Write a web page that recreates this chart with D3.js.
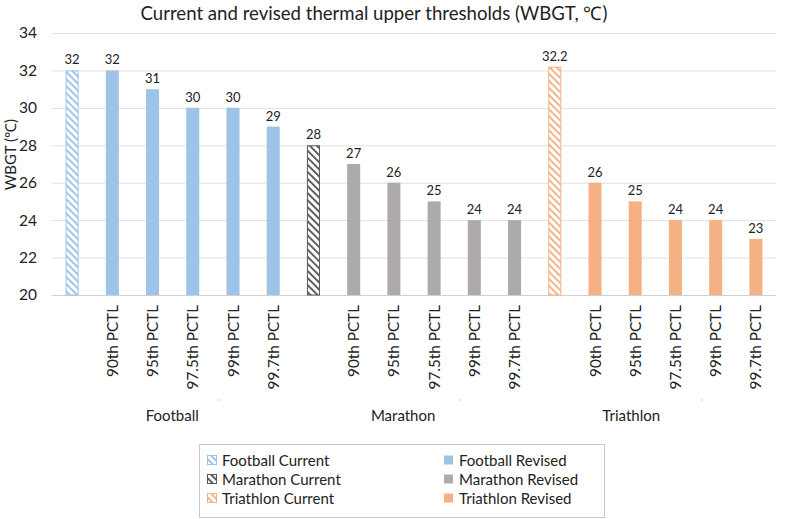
<!DOCTYPE html>
<html>
<head>
<meta charset="utf-8">
<script src="https://cdn.jsdelivr.net/npm/d3@7"></script>
<style>
body { margin: 0; background: #fff; }
svg { font-family: Lato, "Open Sans", sans-serif; }
</style>
</head>
<body>
<svg id="chart" width="800" height="519"></svg>
<script>
const groups = ["Football", "Marathon", "Triathlon"];
const pctls = ["90th PCTL", "95th PCTL", "97.5th PCTL", "99th PCTL", "99.7th PCTL"];
const currentValues = [32, 28, 32.2];
const footballRevised = [32, 31, 30, 30, 29];
const marathonRevised = [27, 26, 25, 24, 24];
const triathlonRevised = [26, 25, 24, 24, 23];
const yTicks = [20, 22, 24, 26, 28, 30, 32, 34];
const legendLabels = ["Football Current", "Football Revised", "Marathon Current", "Marathon Revised", "Triathlon Current", "Triathlon Revised"];

const revised = [footballRevised, marathonRevised, triathlonRevised];
const solidColors = ["#9DC3E6", "#AEAAAA", "#F4B183"];
const stripeColors = ["#9DC3E6", "#595959", "#F4B183"];

const slots = [];
groups.forEach((g, gi) => {
  slots.push({key: g + "|cur", group: gi, kind: "current", label: "", value: currentValues[gi]});
  pctls.forEach((p, pi) => {
    slots.push({key: g + "|" + p, group: gi, kind: "revised", label: p, value: revised[gi][pi]});
  });
});

const svg = d3.select("#chart");
const mLeft = 52, mRight = 776, mTop = 33, mBottom = 295;

const x = d3.scaleBand().domain(slots.map(d => d.key)).range([mLeft, mRight])
  .paddingInner(0.676).paddingOuter(0.338);
const y = d3.scaleLinear().domain([20, 34]).range([mBottom, mTop]);

const defs = svg.append("defs");
stripeColors.forEach((c, i) => {
  const p = defs.append("pattern").attr("id", "stripe" + i)
    .attr("patternUnits", "userSpaceOnUse").attr("width", 5).attr("height", 5)
    .attr("patternTransform", "rotate(-45)");
  p.append("rect").attr("width", 5).attr("height", 5).attr("fill", "#fff");
  p.append("rect").attr("x", 0).attr("width", 1.9).attr("height", 5).attr("fill", c);
});

svg.append("text").attr("x", 374).attr("y", 20).attr("text-anchor", "middle")
  .attr("font-size", 18.6).attr("fill", "#222")
  .text("Current and revised thermal upper thresholds (WBGT, ℃)");

svg.append("g").selectAll("line").data(yTicks).join("line")
  .attr("x1", mLeft).attr("x2", mRight)
  .attr("y1", d => y(d) + 0.5).attr("y2", d => y(d) + 0.5)
  .attr("stroke", d => d === 20 ? "#d0d0d0" : "#e0e0e0").attr("stroke-width", d => d === 20 ? 1.2 : 1);

const yAxis = d3.axisLeft(y).tickValues(yTicks).tickSize(0).tickPadding(0).tickFormat(d3.format("d"));
const ya = svg.append("g").attr("transform", `translate(${mLeft - 15},0)`).call(yAxis);
ya.select(".domain").remove();
ya.selectAll("text").attr("font-size", 15.5).attr("fill", "#222").attr("font-family", "Lato, sans-serif");

svg.append("text").attr("transform", `translate(16,${y(27.5)}) rotate(-90)`)
  .attr("text-anchor", "middle").attr("font-size", 15).attr("fill", "#222")
  .text("WBGT (℃)");

svg.append("g").selectAll("rect").data(slots).join("rect")
  .attr("x", d => d.kind === "current" ? x(d.key) + 0.5 : x(d.key))
  .attr("y", d => y(d.value) + (d.kind === "current" ? 0.5 : 0))
  .attr("width", d => d.kind === "current" ? x.bandwidth() - 1 : x.bandwidth())
  .attr("height", d => y(20) - y(d.value) - (d.kind === "current" ? 0.5 : 0))
  .attr("fill", d => d.kind === "current" ? `url(#stripe${d.group})` : solidColors[d.group])
  .attr("stroke", d => d.kind === "current" ? stripeColors[d.group] : "none")
  .attr("stroke-width", 1);

svg.append("g").selectAll("text").data(slots).join("text")
  .attr("x", d => x(d.key) + x.bandwidth() / 2)
  .attr("y", d => y(d.value) - 6)
  .attr("text-anchor", "middle").attr("font-size", 13).attr("fill", "#222")
  .text(d => d.value);

svg.append("g").selectAll("text").data(slots.filter(d => d.label)).join("text")
  .attr("transform", d => `translate(${x(d.key) + x.bandwidth() / 2 + 5.5},${mBottom + 10}) rotate(-90)`)
  .attr("text-anchor", "end").attr("font-size", 15.3).attr("fill", "#222")
  .text(d => d.label);

const idx = d3.scaleLinear().domain([0, slots.length]).range([mLeft, mRight]);
const sepPos = [4.14, 10.14, 16.14];
svg.append("g").selectAll("rect").data(sepPos).join("rect")
  .attr("x", d => idx(d)).attr("y", 399).attr("width", 1).attr("height", 2).attr("fill", "#c8c8c8");
const groupLabelPos = [2.99, 8.73, 14.4];
svg.append("g").selectAll("text").data(groups).join("text")
  .attr("x", (d, i) => idx(groupLabelPos[i])).attr("y", 421)
  .attr("text-anchor", "middle").attr("font-size", 15).attr("fill", "#222")
  .text(d => d);

const lg = svg.append("g");
lg.append("rect").attr("x", 199.5).attr("y", 444.5).attr("width", 405).attr("height", 73)
  .attr("fill", "#fff").attr("stroke", "#c8c8c8");
const legendItems = legendLabels.map((t, i) => ({text: t, group: Math.floor(i / 2), kind: i % 2 === 0 ? "current" : "revised", col: i % 2, row: Math.floor(i / 2)}));
const rowY = [460, 479, 498];
const colX = [207, 444];
const li = lg.selectAll("g").data(legendItems).join("g")
  .attr("transform", d => `translate(${colX[d.col]},${rowY[d.row]})`);
li.append("rect").attr("x", d => d.kind === "current" ? 0.5 : 0).attr("y", -4.5)
  .attr("width", 9).attr("height", 9)
  .attr("fill", d => d.kind === "current" ? `url(#stripe${d.group})` : solidColors[d.group])
  .attr("stroke", d => d.kind === "current" ? stripeColors[d.group] : "none");
li.append("text").attr("x", 15).attr("y", 5.5).attr("font-size", 15).attr("fill", "#222")
  .text(d => d.text);
</script>
</body>
</html>
